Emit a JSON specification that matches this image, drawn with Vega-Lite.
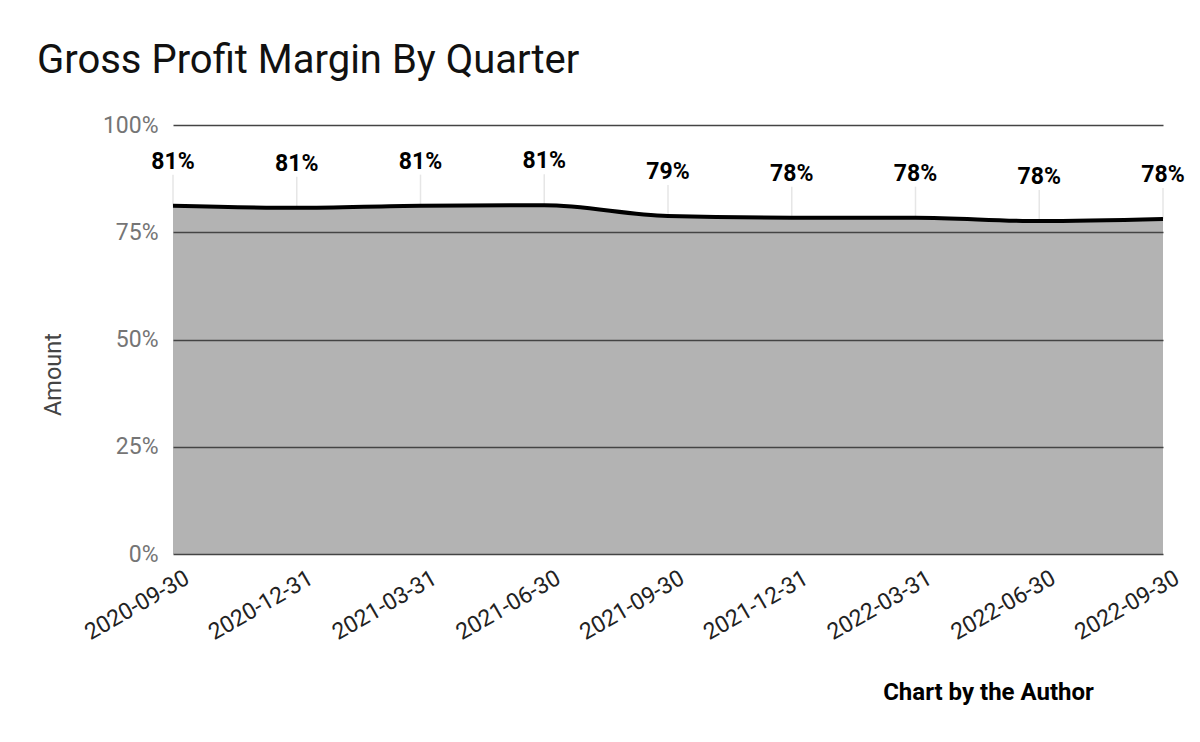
{
  "$schema": "https://vega.github.io/schema/vega-lite/v6.json",
  "width": 990,
  "height": 429,
  "autosize": {"type": "none"},
  "padding": {"left": 173, "top": 125, "right": 37, "bottom": 188},
  "background": "white",
  "config": {"view": {"stroke": null}, "font": "Roboto"},
  "title": {
    "text": "Gross Profit Margin By Quarter",
    "anchor": "start",
    "frame": "group",
    "dx": -136,
    "dy": 48,
    "fontSize": 40,
    "fontWeight": "normal",
    "font": "Roboto",
    "color": "#111111",
    "baseline": "alphabetic",
    "offset": 49
  },
  "data": {
    "values": [
      {"quarter": "2020-09-30", "margin": 0.812},
      {"quarter": "2020-12-31", "margin": 0.807},
      {"quarter": "2021-03-31", "margin": 0.812},
      {"quarter": "2021-06-30", "margin": 0.813},
      {"quarter": "2021-09-30", "margin": 0.788},
      {"quarter": "2021-12-31", "margin": 0.784},
      {"quarter": "2022-03-31", "margin": 0.784},
      {"quarter": "2022-06-30", "margin": 0.776},
      {"quarter": "2022-09-30", "margin": 0.781}
    ]
  },
  "encoding": {
    "x": {
      "field": "quarter",
      "type": "ordinal",
      "sort": null,
      "scale": {"type": "point", "padding": 0},
      "axis": {
        "title": "Chart by the Author",
        "titleFont": "Roboto",
        "titleFontSize": 24,
        "titleFontWeight": "bold",
        "titleColor": "#000000",
        "titleX": 815,
        "titleY": 145,
        "titleAlign": "center",
        "titleBaseline": "alphabetic",
        "labelAngle": -30,
        "labelAlign": "right",
        "labelBaseline": "middle",
        "labelFontSize": 23,
        "labelColor": "#222222",
        "labelFont": "Roboto",
        "labelPadding": 22,
        "labelOffset": 14,
        "ticks": false,
        "domain": false,
        "grid": false
      }
    },
    "y": {
      "field": "margin",
      "type": "quantitative",
      "scale": {"domain": [0, 1]},
      "axis": {
        "title": "Amount",
        "titleFont": "Roboto",
        "titleFontSize": 23.5,
        "titleFontWeight": "normal",
        "titleColor": "#444444",
        "titleX": -120,
        "titleY": 249,
        "titleAngle": -90,
        "titleAlign": "center",
        "titleBaseline": "middle",
        "format": ".0%",
        "values": [0, 0.25, 0.5, 0.75, 1],
        "labelFontSize": 23,
        "labelColor": "#757575",
        "labelFont": "Roboto",
        "labelPadding": 15,
        "ticks": false,
        "domain": false,
        "grid": true,
        "gridColor": "#444444",
        "gridWidth": 1.5,
        "zindex": 1
      }
    }
  },
  "layer": [
    {
      "mark": {"type": "rule", "color": "#e6e6e6", "strokeWidth": 1.5, "y2Offset": -31},
      "encoding": {"y2": {"field": "margin"}}
    },
    {
      "mark": {
        "type": "area",
        "color": "#b3b3b3",
        "opacity": 1,
        "interpolate": "monotone",
        "line": {"color": "#000000", "strokeWidth": 4, "interpolate": "monotone"}
      }
    },
    {
      "mark": {
        "type": "text",
        "font": "Roboto",
        "fontSize": 23,
        "fontWeight": "bold",
        "color": "#000000",
        "baseline": "alphabetic",
        "align": "center",
        "dy": -37
      },
      "encoding": {"text": {"field": "margin", "type": "quantitative", "format": ".0%"}}
    }
  ]
}
